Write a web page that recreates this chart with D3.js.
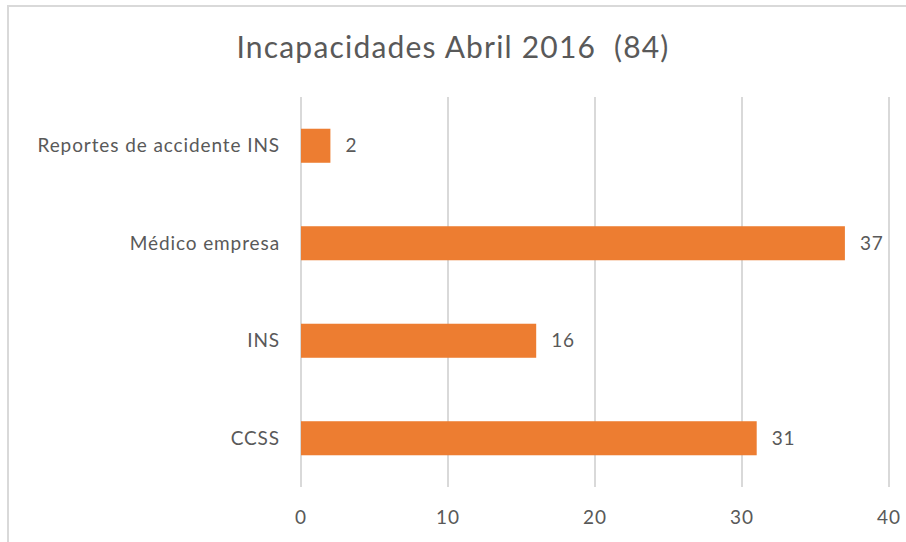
<!DOCTYPE html>
<html><head><meta charset="utf-8">
<script src="https://cdn.jsdelivr.net/npm/d3@7"></script>
<style>body{margin:0;background:#fff}svg{display:block}text{font-family:Lato,"Open Sans",sans-serif;fill:#595959}</style>
</head><body>
<script>
const title = "Incapacidades Abril 2016  (84)";
const categories = ["Reportes de accidente INS", "Médico empresa", "INS", "CCSS"];
const values = [2, 37, 16, 31];
const ticks = [0, 10, 20, 30, 40];

const W = 906, H = 542;
const svg = d3.select("body").append("svg").attr("width", W).attr("height", H);
svg.append("rect").attr("x", 8).attr("y", 6).attr("width", 1000).attr("height", 1000)
  .attr("fill", "#fff").attr("stroke", "#d9d9d9").attr("stroke-width", 2);

const x = d3.scaleLinear().domain([0, 40]).range([301, 889]);
const y = d3.scaleBand().domain(categories).range([97, 487]).paddingInner(0.651).paddingOuter(0.3255);

svg.append("g").selectAll("line").data(ticks).join("line")
  .attr("x1", d => x(d)).attr("x2", d => x(d)).attr("y1", 97).attr("y2", 487)
  .attr("stroke", "#d9d9d9").attr("stroke-width", 2);

svg.append("g").selectAll("text").data(ticks).join("text")
  .attr("x", d => x(d)).attr("y", 524).attr("text-anchor", "middle")
  .attr("font-size", 19).attr("letter-spacing", 0.9).text(d => d);

const data = categories.map((c, i) => ({c, v: values[i]}));
svg.append("g").selectAll("rect").data(data).join("rect")
  .attr("x", x(0)).attr("y", d => y(d.c)).attr("width", d => x(d.v) - x(0)).attr("height", y.bandwidth())
  .attr("fill", "#ED7D31");

svg.append("g").selectAll("text").data(data).join("text")
  .attr("x", d => x(d.v) + 15).attr("y", d => y(d.c) + y.bandwidth() / 2).attr("dy", "0.35em")
  .attr("font-size", 19).attr("letter-spacing", 0.9).text(d => d.v);

svg.append("g").selectAll("text").data(data).join("text")
  .attr("x", 280).attr("y", d => y(d.c) + y.bandwidth() / 2).attr("dy", "0.35em")
  .attr("text-anchor", "end").attr("font-size", 19).attr("letter-spacing", 0.9).text(d => d.c);

svg.append("text").attr("x", 453).attr("y", 58).attr("text-anchor", "middle")
  .attr("font-size", 30).attr("letter-spacing", 1.2).text(title).style("white-space", "pre");
</script>
</body></html>
